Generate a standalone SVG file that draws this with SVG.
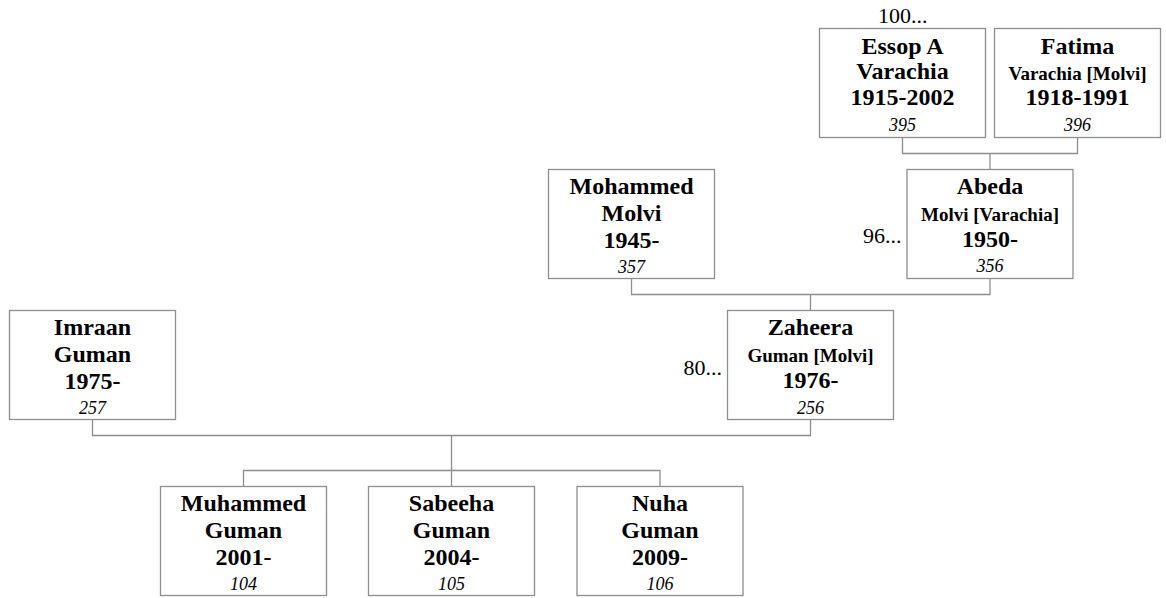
<svg xmlns="http://www.w3.org/2000/svg" width="1166" height="598" viewBox="0 0 1166 598">
<style>
.box{fill:#fff;stroke:#8e8e8e;stroke-width:1.3}
.con{fill:none;stroke:#8e8e8e;stroke-width:1.3}
text{font-family:"Liberation Serif","Times New Roman",serif;fill:#000;text-anchor:middle}
.n{font-weight:bold;font-size:24px}
.s{font-weight:bold;font-size:19px}
.i{font-style:italic;font-size:18px}
.m{font-size:22px}
</style>
<rect width="1166" height="598" fill="#fff"/>
<g id="connectors">
<polyline class="con" points="902.5,137.5 902.5,153.5 1077.5,153.5 1077.5,137.5"/>
<line class="con" x1="990" y1="153.5" x2="990" y2="169.5"/>
<polyline class="con" points="631.5,278.5 631.5,294.5 990,294.5 990,278.5"/>
<line class="con" x1="810.5" y1="294.5" x2="810.5" y2="310.5"/>
<polyline class="con" points="92.5,419.5 92.5,435.5 810.5,435.5 810.5,419.5"/>
<line class="con" x1="451.5" y1="435.5" x2="451.5" y2="470.5"/>
<polyline class="con" points="243.5,486.5 243.5,470.5 660,470.5 660,486.5"/>
<line class="con" x1="451.5" y1="470.5" x2="451.5" y2="486.5"/>
</g>
<g id="essop">
<rect class="box" x="819.5" y="28.5" width="166" height="109"/>
<text class="n" x="902.5" y="53.5">Essop A</text>
<text class="n" x="902.5" y="78.5">Varachia</text>
<text class="n" x="902.5" y="104.5">1915-2002</text>
<text class="i" x="902.5" y="131">395</text>
<text class="m" x="878" y="23" style="text-anchor:start">100...</text>
</g>
<g id="fatima">
<rect class="box" x="994.5" y="28.5" width="166" height="109"/>
<text class="n" x="1077.5" y="53.5">Fatima</text>
<text class="s" x="1077.5" y="80">Varachia [Molvi]</text>
<text class="n" x="1077.5" y="104.5">1918-1991</text>
<text class="i" x="1077.5" y="131">396</text>
</g>
<g id="mohammed">
<rect class="box" x="548.5" y="169.5" width="166" height="109"/>
<text class="n" x="631.5" y="194">Mohammed</text>
<text class="n" x="631.5" y="221">Molvi</text>
<text class="n" x="631.5" y="247.5">1945-</text>
<text class="i" x="631.5" y="273">357</text>
</g>
<g id="abeda">
<rect class="box" x="907" y="169.5" width="166" height="109"/>
<text class="n" x="990" y="194">Abeda</text>
<text class="s" x="990" y="221">Molvi [Varachia]</text>
<text class="n" x="990" y="247">1950-</text>
<text class="i" x="990" y="271.5">356</text>
<text class="m" x="901.5" y="243" style="text-anchor:end">96...</text>
</g>
<g id="imraan">
<rect class="box" x="9.5" y="310.5" width="166" height="109"/>
<text class="n" x="92.5" y="335">Imraan</text>
<text class="n" x="92.5" y="362">Guman</text>
<text class="n" x="92.5" y="389">1975-</text>
<text class="i" x="92.5" y="414">257</text>
</g>
<g id="zaheera">
<rect class="box" x="727.5" y="310.5" width="166" height="109"/>
<text class="n" x="810.5" y="335">Zaheera</text>
<text class="s" x="810.5" y="362">Guman [Molvi]</text>
<text class="n" x="810.5" y="388">1976-</text>
<text class="i" x="810.5" y="414">256</text>
<text class="m" x="722" y="375" style="text-anchor:end">80...</text>
</g>
<g id="muhammed">
<rect class="box" x="160.5" y="486.5" width="166" height="109"/>
<text class="n" x="243.5" y="511">Muhammed</text>
<text class="n" x="243.5" y="538">Guman</text>
<text class="n" x="243.5" y="565">2001-</text>
<text class="i" x="243.5" y="589.5">104</text>
</g>
<g id="sabeeha">
<rect class="box" x="368.5" y="486.5" width="166" height="109"/>
<text class="n" x="451.5" y="511">Sabeeha</text>
<text class="n" x="451.5" y="538">Guman</text>
<text class="n" x="451.5" y="565">2004-</text>
<text class="i" x="451.5" y="589.5">105</text>
</g>
<g id="nuha">
<rect class="box" x="577" y="486.5" width="166" height="109"/>
<text class="n" x="660" y="511">Nuha</text>
<text class="n" x="660" y="538">Guman</text>
<text class="n" x="660" y="565">2009-</text>
<text class="i" x="660" y="589.5">106</text>
</g>
</svg>
